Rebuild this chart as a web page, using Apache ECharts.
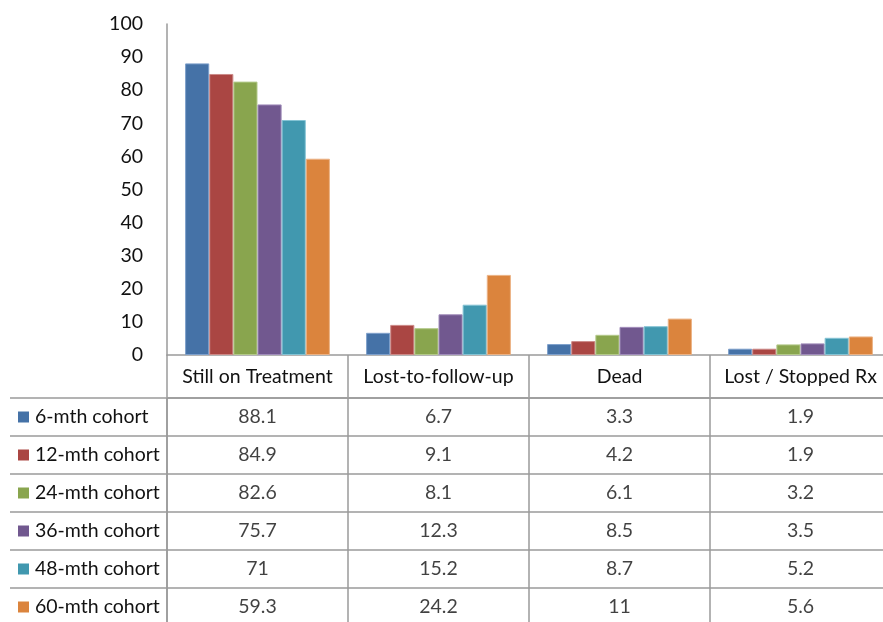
<!DOCTYPE html>
<html>
<head>
<meta charset="utf-8">
<script src="https://cdn.jsdelivr.net/npm/echarts@6/dist/echarts.min.js"></script>
<style>html,body{margin:0;padding:0;background:#fff;}#c{width:883px;height:622px;}</style>
</head>
<body>
<div id="c"></div>
<script>
var categories = ['Still on Treatment', 'Lost-to-follow-up', 'Dead', 'Lost / Stopped Rx'];
var cohorts = ['6-mth cohort', '12-mth cohort', '24-mth cohort', '36-mth cohort', '48-mth cohort', '60-mth cohort'];
var v6  = [88.1, 6.7, 3.3, 1.9];
var v12 = [84.9, 9.1, 4.2, 1.9];
var v24 = [82.6, 8.1, 6.1, 3.2];
var v36 = [75.7, 12.3, 8.5, 3.5];
var v48 = [71, 15.2, 8.7, 5.2];
var v60 = [59.3, 24.2, 11, 5.6];
var yTicks = [0, 10, 20, 30, 40, 50, 60, 70, 80, 90, 100];

var seriesValues = [v6, v12, v24, v36, v48, v60];
var colors = ['#4572A7', '#AA4643', '#89A54E', '#71588F', '#4198AF', '#DB843D'];
var borders = ['#7d9fcb', '#cc8a88', '#b3c98a', '#a08cba', '#84c3d4', '#ebb285'];
var lineGrey = '#9a9a9a';
var fontFam = 'Lato, "Noto Sans", sans-serif';
var fs = 19.5;

var series = [];
seriesValues.forEach(function (vals, i) {
  series.push({
    name: cohorts[i], type: 'bar', xAxisIndex: 0, yAxisIndex: 0,
    data: vals, barGap: '0%', barCategoryGap: '20%',
    itemStyle: { color: colors[i], borderColor: borders[i], borderWidth: 1 },
    silent: true
  });
});
var cells = [];
seriesValues.forEach(function (vals, i) {
  vals.forEach(function (v, j) { cells.push([j, i, v]); });
});
series.push({
  type: 'scatter', xAxisIndex: 1, yAxisIndex: 1, data: cells,
  symbolSize: 1, itemStyle: { color: 'rgba(0,0,0,0)' }, silent: true,
  label: { show: true, position: 'inside', color: '#111', fontFamily: fontFam, fontSize: fs,
    formatter: function (p) { return String(p.value[2]); } }
});

var rich = { t: { color: '#111', fontFamily: fontFam, fontSize: fs, padding: [0, 0, 0, 6] } };
colors.forEach(function (c, i) { rich['m' + i] = { width: 11, height: 11, backgroundColor: c }; });

var chart = echarts.init(document.getElementById('c'));
chart.setOption({
  animation: false,
  backgroundColor: '#fff',
  grid: [
    { left: 167, width: 724, top: 24, height: 331, outerBoundsMode: 'none', containLabel: false },
    { left: 167, width: 724, top: 398, height: 228, outerBoundsMode: 'none', containLabel: false }
  ],
  xAxis: [
    { type: 'category', gridIndex: 0, data: categories,
      axisLine: { show: true, lineStyle: { color: lineGrey, width: 1.5 } },
      axisTick: { show: true, length: 42, interval: 0, lineStyle: { color: lineGrey, width: 1.5 } },
      axisLabel: { interval: 0, margin: 12, color: '#111', fontFamily: fontFam, fontSize: fs },
      splitLine: { show: false } },
    { type: 'category', gridIndex: 1, data: categories, position: 'top',
      axisLine: { show: true, lineStyle: { color: lineGrey, width: 1.5 } },
      axisTick: { show: false }, axisLabel: { show: false },
      splitLine: { show: true, interval: 0, lineStyle: { color: lineGrey, width: 1.5 } } }
  ],
  yAxis: [
    { type: 'value', gridIndex: 0, min: yTicks[0], max: yTicks[yTicks.length - 1], interval: 10,
      axisLine: { show: true, lineStyle: { color: lineGrey, width: 1.5 } },
      axisTick: { show: false }, splitLine: { show: false },
      axisLabel: { margin: 24, color: '#111', fontFamily: fontFam, fontSize: fs } },
    { type: 'category', gridIndex: 1, data: cohorts, inverse: true,
      axisLine: { show: true, lineStyle: { color: lineGrey, width: 1.5 } },
      axisTick: { show: true, length: 157, interval: 0, lineStyle: { color: lineGrey, width: 1.5 } },
      splitLine: { show: true, interval: 0, lineStyle: { color: lineGrey, width: 1.5 } },
      axisLabel: { interval: 0, margin: 149, align: 'left', rich: rich,
        formatter: function (val, idx) { return '{m' + idx + '|}{t|' + val + '}'; } } },
    { type: 'category', gridIndex: 1, data: cohorts, inverse: true, offset: 157,
      axisLine: { show: true, lineStyle: { color: lineGrey, width: 1.5 } },
      axisTick: { show: false }, axisLabel: { show: false }, splitLine: { show: false } }
  ],
  series: series
});
</script>
</body>
</html>
